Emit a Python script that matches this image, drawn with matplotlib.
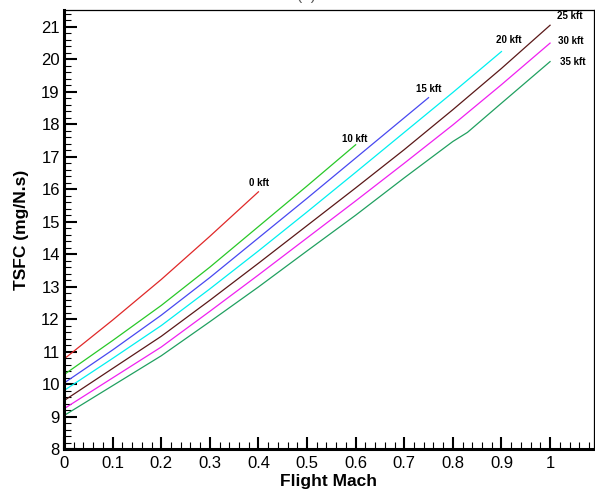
import numpy as np
import matplotlib
matplotlib.use("Agg")
import matplotlib.pyplot as plt
from matplotlib.ticker import MultipleLocator, FuncFormatter

plt.rcParams['font.family'] = ['Liberation Sans', 'DejaVu Sans']

# values
mach_0 = [0, 0.1, 0.2, 0.3, 0.4]
tsfc_0 = [10.77, 11.97, 13.22, 14.55, 15.92]

mach_10 = [0, 0.1, 0.2, 0.3, 0.4, 0.5, 0.6]
tsfc_10 = [10.29, 11.34, 12.42, 13.6, 14.85, 16.1, 17.37]

mach_15 = [0, 0.1, 0.2, 0.3, 0.4, 0.5, 0.6, 0.7, 0.75]
tsfc_15 = [10.03, 11.05, 12.12, 13.28, 14.5, 15.72, 16.96, 18.2, 18.82]

mach_20 = [0, 0.1, 0.2, 0.3, 0.4, 0.5, 0.6, 0.7, 0.8, 0.9]
tsfc_20 = [9.8, 10.79, 11.8, 12.93, 14.1, 15.3, 16.52, 17.75, 18.98, 20.24]

mach_25 = [0, 0.1, 0.2, 0.3, 0.4, 0.5, 0.6, 0.7, 0.8, 0.9, 1.0]
tsfc_25 = [9.49, 10.48, 11.47, 12.58, 13.72, 14.88, 16.04, 17.22, 18.45, 19.72, 21.05]

mach_30 = [0, 0.1, 0.2, 0.3, 0.4, 0.5, 0.6, 0.7, 0.8, 0.9, 1.0]
tsfc_30 = [9.24, 10.19, 11.14, 12.24, 13.36, 14.5, 15.64, 16.8, 17.98, 19.22, 20.5]

mach_35 = [0, 0.1, 0.2, 0.3, 0.4, 0.5, 0.6, 0.7, 0.8, 0.83, 0.9, 1.0]
tsfc_35 = [9.03, 9.95, 10.87, 11.92, 12.99, 14.1, 15.2, 16.35, 17.47, 17.75, 18.65, 19.93]

labels = ["0 kft", "10 kft", "15 kft", "20 kft", "25 kft", "30 kft", "35 kft"]
label_x = [0.402, 0.597, 0.750, 0.915, 1.041, 1.043, 1.047]
label_y = [16.2, 17.54, 19.08, 20.59, 21.32, 20.56, 19.91]

colors = ["#e02828", "#28c828", "#4848f0", "#00f0f0", "#5a1818", "#f020f0", "#20a060"]

series = [(mach_0, tsfc_0), (mach_10, tsfc_10), (mach_15, tsfc_15),
          (mach_20, tsfc_20), (mach_25, tsfc_25), (mach_30, tsfc_30),
          (mach_35, tsfc_35)]

fig = plt.figure(figsize=(5.95, 4.94), dpi=100)
ax = fig.add_axes([0.1076, 0.0911, 0.8904, 0.8887])

for (m, t), c in zip(series, colors):
    ax.plot(m, t, color=c, lw=0.9)

for lab, x, y in zip(labels, label_x, label_y):
    ax.text(x, y, lab, ha='center', va='center', fontsize=7, fontweight='bold')

ax.set_xlim(0, 1.09)
ax.set_ylim(8, 21.52)
ax.xaxis.set_major_locator(MultipleLocator(0.1))
ax.xaxis.set_minor_locator(MultipleLocator(0.02))
ax.yaxis.set_major_locator(MultipleLocator(1))
ax.yaxis.set_minor_locator(MultipleLocator(0.2))
ax.xaxis.set_major_formatter(FuncFormatter(lambda v, p: "%g" % round(v, 2)))

ax.tick_params(which='major', direction='in', length=9, width=1.5, labelsize=12,
               top=False, right=False)
ax.tick_params(which='minor', direction='in', length=5, width=0.8,
               top=False, right=False)
ax.tick_params(axis='x', which='major', pad=5)
ax.tick_params(axis='y', which='major', pad=3)

ax.spines['left'].set_linewidth(2.2)
ax.spines['bottom'].set_linewidth(2.2)
ax.spines['top'].set_linewidth(0.9)
ax.spines['right'].set_linewidth(0.9)

ax.set_xlabel("Flight Mach", fontsize=12.5, fontweight='bold', labelpad=2)
ax.set_ylabel("TSFC (mg/N.s)", fontsize=12.5, fontweight='bold', labelpad=9)

fig.text(0.515, 0.9995, "(a)", ha='center', va='baseline', fontsize=11, color='#555555')

fig.savefig("out.png", dpi=100)
